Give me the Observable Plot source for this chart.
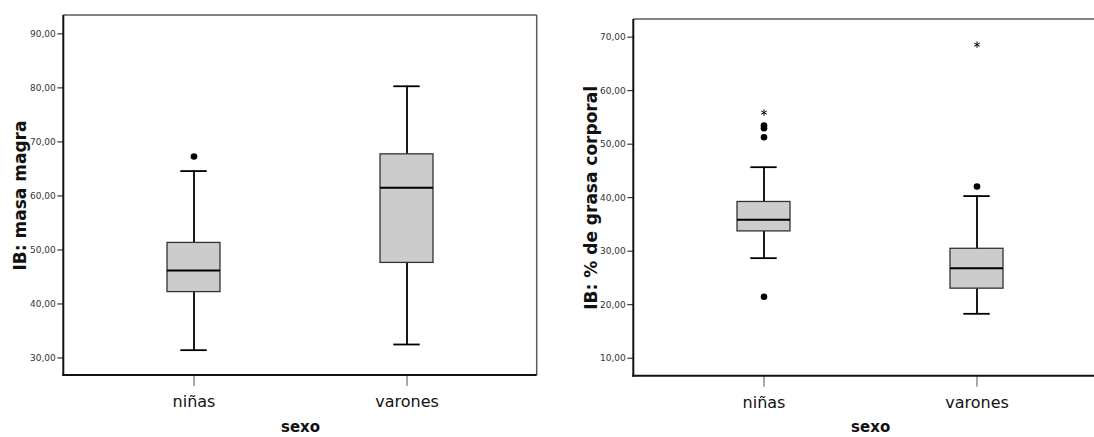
<!DOCTYPE html>
<html><head><meta charset="utf-8">
<script src="https://cdn.jsdelivr.net/npm/d3@7"></script>
<script src="https://cdn.jsdelivr.net/npm/@observablehq/plot@0.6"></script>
<style>
html,body{margin:0;padding:0;background:#fff;overflow:hidden}
#wrap{position:relative;width:1094px;height:437px;overflow:hidden;background:#fff}
#wrap > svg{position:absolute;top:0;margin:0;overflow:visible}
</style></head><body><div id="wrap"></div>
<script>
// categories
const sexo = ["niñas", "varones"];

// IB: masa magra
const mmWhiskerLow  = [31.45, 32.5];
const mmQ1          = [42.2, 47.6];
const mmMedian      = [46.2, 61.5];
const mmQ3          = [51.3, 67.7];
const mmWhiskerHigh = [64.6, 80.3];
const mmOutlierSexo  = ["niñas"];
const mmOutlierValue = [67.3];
const mmExtremeSexo  = [];
const mmExtremeValue = [];
const mmTicks = [30, 40, 50, 60, 70, 80, 90];
const mmDomain = [26.76, 93.4];

// IB: % de grasa corporal
const gcWhiskerLow  = [28.7, 18.3];
const gcQ1          = [33.7, 23.0];
const gcMedian      = [35.9, 26.8];
const gcQ3          = [39.2, 30.45];
const gcWhiskerHigh = [45.7, 40.3];
const gcOutlierSexo  = ["niñas", "niñas", "niñas", "niñas", "varones"];
const gcOutlierValue = [53.5, 53.0, 51.3, 21.5, 42.1];
const gcExtremeSexo  = ["niñas", "varones"];
const gcExtremeValue = [55.9, 68.6];
const gcTicks = [10, 20, 30, 40, 50, 60, 70];
const gcDomain = [6.64, 73.3];

const fmt = d => d.toFixed(2).replace(".", ",");

function frameLines(index, scales, values, dim) {
  const {width, height, marginTop, marginRight, marginBottom, marginLeft} = dim;
  const l = marginLeft, r = width - marginRight, t = marginTop, b = height - marginBottom;
  const g = d3.create("svg:g");
  g.append("line").attr("x1", l).attr("x2", r).attr("y1", t).attr("y2", t)
    .attr("stroke", "#5a5a5a").attr("stroke-width", 1.5);
  g.append("line").attr("x1", r).attr("x2", r).attr("y1", t).attr("y2", b)
    .attr("stroke", "#5a5a5a").attr("stroke-width", 1.5);
  g.append("line").attr("x1", l).attr("x2", l).attr("y1", t).attr("y2", b + 1)
    .attr("stroke", "#111").attr("stroke-width", 2);
  g.append("line").attr("x1", l - 1).attr("x2", r).attr("y1", b).attr("y2", b)
    .attr("stroke", "#111").attr("stroke-width", 2);
  return g.node();
}

function panel(cfg) {
  const box = sexo.map((s, i) => ({
    sexo: s, lo: cfg.lo[i], q1: cfg.q1[i], med: cfg.med[i], q3: cfg.q3[i], hi: cfg.hi[i]
  }));
  const outliers = cfg.outS.map((s, i) => ({sexo: s, v: cfg.outV[i]}));
  const extremes = cfg.extS.map((s, i) => ({sexo: s, v: cfg.extV[i]}));
  return Plot.plot({
    width: cfg.width,
    height: 437,
    marginLeft: cfg.marginLeft,
    marginRight: cfg.marginRight,
    marginTop: cfg.marginTop,
    marginBottom: cfg.marginBottom,
    style: {fontFamily: "'DejaVu Sans', Verdana, sans-serif", background: "transparent", color: "#222"},
    x: {type: "band", domain: sexo, paddingInner: 0.75, paddingOuter: 0.485, label: null},
    y: {domain: cfg.domain, label: null},
    marks: [
      Plot.ruleX(box, {x: "sexo", y1: "lo", y2: "q1", stroke: "#000", strokeWidth: 1.8}),
      Plot.ruleX(box, {x: "sexo", y1: "q3", y2: "hi", stroke: "#000", strokeWidth: 1.8}),
      Plot.tickY(box, {x: "sexo", y: "lo", stroke: "#000", strokeWidth: 1.8, insetLeft: 13.3, insetRight: 13.3}),
      Plot.tickY(box, {x: "sexo", y: "hi", stroke: "#000", strokeWidth: 1.8, insetLeft: 13.3, insetRight: 13.3}),
      Plot.barY(box, {x: "sexo", y1: "q1", y2: "q3", fill: "#cccccc", stroke: "#333", strokeWidth: 1.3}),
      Plot.tickY(box, {x: "sexo", y: "med", stroke: "#000", strokeWidth: 2}),
      Plot.dot(outliers, {x: "sexo", y: "v", r: 3.3, fill: "#000", stroke: "none"}),
      Plot.dot(extremes, {x: "sexo", y: "v", r: 3, symbol: "asterisk", stroke: "#000", strokeWidth: 1}),
      Plot.axisY({ticks: cfg.ticks, tickFormat: fmt, tickSize: 6, tickPadding: 2, fontSize: 9, stroke: "#111", fill: "#333", label: null}),
      Plot.axisX({tickSize: 11, tickPadding: 9, fontSize: 16, stroke: "#555", fill: "#111", label: null}),
      frameLines,
      Plot.text([cfg.title], {text: d => d, frameAnchor: "left", textAnchor: "middle", lineAnchor: "middle", rotate: -90, dx: cfg.titleDx, fontSize: 17, fontWeight: "bold", fill: "#111"}),
      Plot.text(["sexo"], {text: d => d, frameAnchor: "bottom", textAnchor: "middle", dy: 56, fontSize: 15, fontWeight: "bold", fill: "#111"})
    ]
  });
}

const left = panel({
  width: 547, marginLeft: 63.3, marginRight: 10.3, marginTop: 15, marginBottom: 62,
  domain: mmDomain, ticks: mmTicks, title: "IB: masa magra", titleDx: -43,
  lo: mmWhiskerLow, q1: mmQ1, med: mmMedian, q3: mmQ3, hi: mmWhiskerHigh,
  outS: mmOutlierSexo, outV: mmOutlierValue, extS: mmExtremeSexo, extV: mmExtremeValue
});
const right = panel({
  width: 570, marginLeft: 86.3, marginRight: 10, marginTop: 19, marginBottom: 61.3,
  domain: gcDomain, ticks: gcTicks, title: "IB: % de grasa corporal", titleDx: -42,
  lo: gcWhiskerLow, q1: gcQ1, med: gcMedian, q3: gcQ3, hi: gcWhiskerHigh,
  outS: gcOutlierSexo, outV: gcOutlierValue, extS: gcExtremeSexo, extV: gcExtremeValue
});
left.style.left = "0px";
right.style.left = "547px";
const wrap = document.getElementById("wrap");
wrap.appendChild(left);
wrap.appendChild(right);
</script>
</body></html>
